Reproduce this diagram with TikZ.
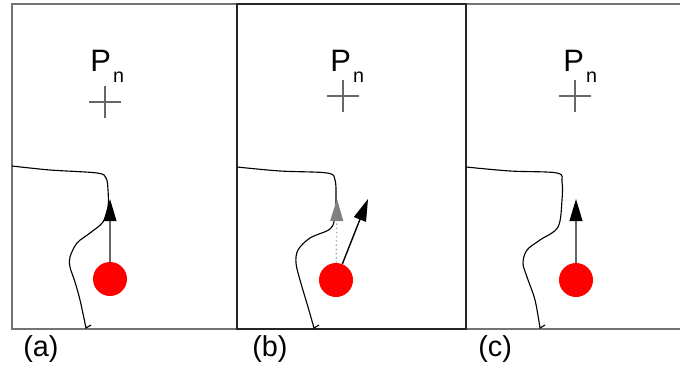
\documentclass[tikz,border=0pt]{standalone}
\usepackage{fontspec}
\setmainfont{Liberation Sans}
\usetikzlibrary{arrows.meta}
\tikzset{
  frame/.style={draw=black!55, line width=0.5mm},
  midframe/.style={draw=black!85, line width=0.5mm},
  front/.style={draw=black, line width=0.28mm},
  cross/.style={draw=black!60, line width=0.35mm},
  ball/.style={circle, fill=red, draw=none, minimum size=8.5mm, inner sep=0pt},
  move/.style={draw=black!60, line width=0.35mm, -{Triangle[length=5.5mm, width=3.2mm, black]}},
  newmove/.style={draw=black, line width=0.35mm, -{Triangle[length=5.5mm, width=3.2mm, black]}},
  ghost/.style={draw=black!35, line width=0.35mm, dotted, -{Triangle[length=5.5mm, width=3.2mm, black!50]}},
  point/.style={anchor=base west, inner sep=0pt, font=\fontsize{22}{24}\selectfont},
  caption/.style={anchor=base west, inner sep=0pt, font=\fontsize{20.5}{24}\selectfont}
}
\newcommand{\ptname}{P\hspace{1.5pt}\raisebox{-7.5pt}{\fontsize{14}{14}\selectfont n}}

\begin{document}
\begin{tikzpicture}[x=0.25mm,y=-0.25mm]
\useasboundingbox (0,0) rectangle (680,376);

% panel frames
\draw[frame] (680,4) -- (12,4) -- (12,329) -- (680,329);
\draw[midframe] (237,4) rectangle (466,329);

% (a)
\node[point] (pa) at (90,72) {\ptname};
\coordinate (crossa) at (105,102);
\draw[cross] (crossa) +(-16,0) -- +(16,0) +(0,-16) -- +(0,16);
\draw[front] plot[smooth, tension=0.55] coordinates {(12,166) (50,170) (97,173) (106,178) (108,190) (108,207) (103,222) (90,233) (77,243) (70,257) (70,267) (75,282) (80,300) (86,328)} -- (91,325);
\node[ball] (balla) at (110,279) {};
\coordinate (tipa) at (110,199);
\draw[move] (balla) -- (tipa);
\node[caption] (capa) at (23,356) {(a)};

% (b)
\node[point] (pb) at (330,72) {\ptname};
\coordinate (crossb) at (343,96);
\draw[cross] (crossb) +(-16,0) -- +(16,0) +(0,-16) -- +(0,16);
\draw[front] plot[smooth, tension=0.55] coordinates {(237,167) (280,171) (327,173) (335,180) (336,200) (335,217) (330,229) (310,238) (298,250) (296,263) (300,280) (308,307) (314,328)} -- (319,325);
\node[ball] (ballb) at (336,280) {};
\coordinate (ghostb) at (337,199);
\coordinate (tipb) at (368,199);
\draw[ghost] (ballb) -- (ghostb);
\draw[newmove] (ballb) -- (tipb);
\node[caption] (capb) at (252,356) {(b)};

% (c)
\node[point] (pc) at (563,72) {\ptname};
\coordinate (crossc) at (575,96);
\draw[cross] (crossc) +(-16,0) -- +(16,0) +(0,-16) -- +(0,16);
\draw[front] plot[smooth, tension=0.55] coordinates {(466,167) (510,171) (557,173) (562,182) (562,200) (558,227) (540,240) (527,250) (523,263) (527,277) (535,300) (540,328)} -- (545,325);
\node[ball] (ballc) at (576,280) {};
\coordinate (tipc) at (576,199);
\draw[move] (ballc) -- (tipc);
\node[caption] (capc) at (478,356) {(c)};
\end{tikzpicture}
\end{document}
